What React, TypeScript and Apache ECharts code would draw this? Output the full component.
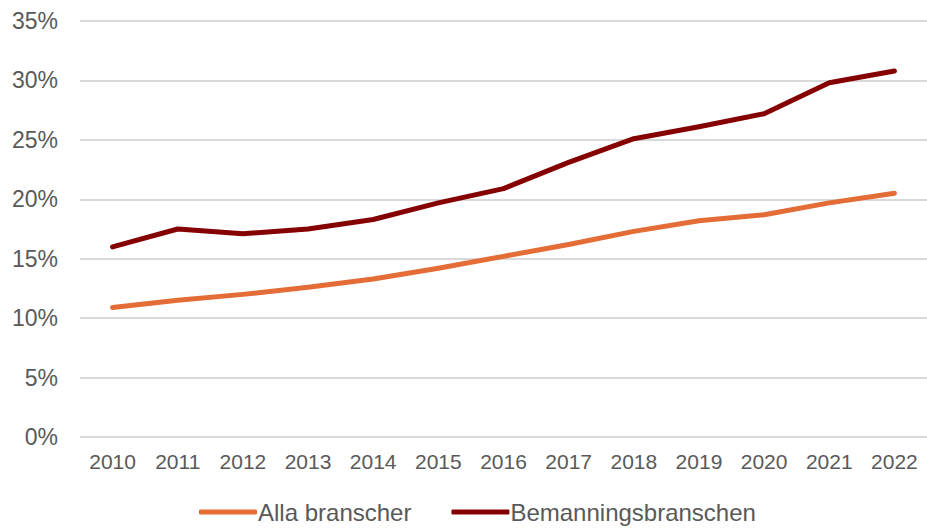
import React, { useEffect, useRef } from "react";
import * as echarts from "echarts";

const years = ["2010", "2011", "2012", "2013", "2014", "2015", "2016", "2017", "2018", "2019", "2020", "2021", "2022"];
const allaBranscher = [10.9, 11.5, 12.0, 12.6, 13.3, 14.2, 15.2, 16.2, 17.3, 18.2, 18.7, 19.7, 20.5];
const bemanningsbranschen = [16.0, 17.5, 17.1, 17.5, 18.3, 19.7, 20.9, 23.1, 25.1, 26.1, 27.2, 29.8, 30.8];
const seriesNames = ["Alla branscher", "Bemanningsbranschen"];

const FONT = "'Liberation Sans', Arial, sans-serif";
const TEXT = "#595959";

export default function App() {
  const ref = useRef<HTMLDivElement>(null);
  useEffect(() => {
    if (!ref.current) return;
    const chart = echarts.init(ref.current, null, { renderer: "svg" });
    chart.setOption({
      animation: false,
      textStyle: { fontFamily: FONT },
      grid: { left: 80, right: 0, top: 21, bottom: 95, containLabel: false },
      legend: {
        top: 500,
        left: 199,
        padding: 0,
        icon: "roundRect",
        itemWidth: 58,
        itemHeight: 5,
        itemGap: 40,
        textStyle: { fontSize: 24, color: TEXT, fontFamily: FONT, padding: [0, 0, 0, -4] },
        data: seriesNames,
      },
      xAxis: {
        type: "category",
        data: years,
        boundaryGap: true,
        axisLine: { show: false },
        axisTick: { show: false },
        axisLabel: { fontSize: 21, color: TEXT, margin: 14, fontFamily: FONT },
      },
      yAxis: {
        type: "value",
        min: 0,
        max: 35,
        interval: 5,
        axisLine: { show: false },
        axisTick: { show: false },
        axisLabel: { fontSize: 23, color: TEXT, margin: 22, formatter: "{value}%", fontFamily: FONT },
        splitLine: { lineStyle: { color: "#d9d9d9", width: 2 } },
      },
      series: [
        {
          name: seriesNames[0],
          type: "line",
          data: allaBranscher,
          showSymbol: false,
          symbol: "none",
          lineStyle: { color: "#E46C36", width: 5, cap: "round", join: "round" },
          itemStyle: { color: "#E46C36" },
        },
        {
          name: seriesNames[1],
          type: "line",
          data: bemanningsbranschen,
          showSymbol: false,
          symbol: "none",
          lineStyle: { color: "#850000", width: 5, cap: "round", join: "round" },
          itemStyle: { color: "#850000" },
        },
      ],
    });
    return () => chart.dispose();
  }, []);
  return <div ref={ref} style={{ width: 927, height: 532, position: "absolute", left: 0, top: 0 }} />;
}
